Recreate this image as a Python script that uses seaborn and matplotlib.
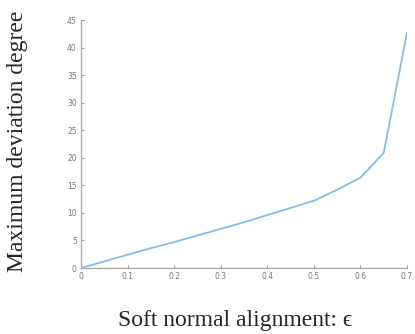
import matplotlib
matplotlib.use("Agg")
import matplotlib.pyplot as plt
import seaborn as sns
import pandas as pd

epsilon = [0.0, 0.05, 0.1, 0.15, 0.2, 0.25, 0.3, 0.35, 0.4, 0.45, 0.5, 0.55, 0.6, 0.65, 0.7]
max_dev = [0.0, 1.2, 2.4, 3.6, 4.7, 5.9, 7.1, 8.3, 9.6, 10.9, 12.2, 14.2, 16.4, 20.9, 42.7]
xticks = [0, 0.1, 0.2, 0.3, 0.4, 0.5, 0.6, 0.7]
xtick_labels = ["0", "0.1", "0.2", "0.3", "0.4", "0.5", "0.6", "0.7"]
yticks = [0, 5, 10, 15, 20, 25, 30, 35, 40, 45]

df = pd.DataFrame({"eps": epsilon, "dev": max_dev})

sns.set_theme(style="ticks")
fig = plt.figure(figsize=(4.15, 3.34), dpi=100)
ax = fig.add_axes([81/415, 1 - 268/334, (407-81)/415, (268-20)/334])

sns.lineplot(data=df, x="eps", y="dev", ax=ax, color="#86bde8", linewidth=1.3)

ax.set_xlim(0, 0.7)
ax.set_ylim(0, 45)
ax.set_xticks(xticks)
ax.set_xticklabels(xtick_labels)
ax.set_yticks(yticks)
ax.tick_params(direction="in", length=2, width=0.6, colors="#888888",
               labelsize=5.5, labelcolor="#777777", pad=3)
for s in ["top", "right"]:
    ax.spines[s].set_visible(False)
for s in ["left", "bottom"]:
    ax.spines[s].set_color("#aaaaaa")
    ax.spines[s].set_linewidth(1.0)

serif = ["Liberation Serif", "DejaVu Serif"]
ax.set_xlabel("Soft normal alignment: \u03f5", family=serif, fontsize=17)
ax.set_ylabel("Maximum deviation degree", family=serif, fontsize=17)
ax.xaxis.label.set_va("center")
ax.yaxis.label.set_va("center")
ax.xaxis.set_label_coords(0.472, -0.21)
ax.yaxis.set_label_coords(-0.196, 0.512)

fig.savefig("out.png", dpi=100)
